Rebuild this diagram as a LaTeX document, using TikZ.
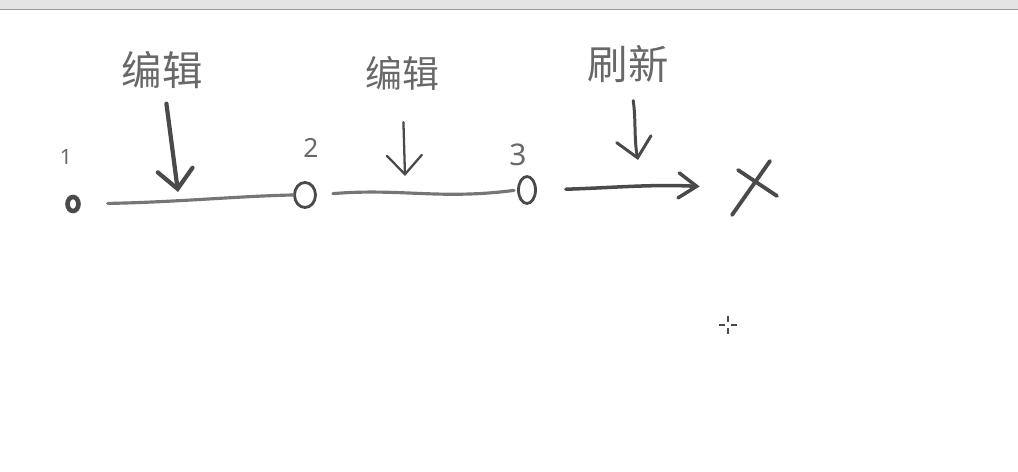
\documentclass[tikz,border=0pt]{standalone}
\usepackage{fontspec}
\usepackage{xcolor}
\newfontfamily\cjk{Noto Sans CJK SC}
\newfontfamily\numfont{Noto Sans}
\usetikzlibrary{arrows.meta,positioning,calc,shapes.geometric}
\definecolor{InkDark}{HTML}{4A4A4A}
\definecolor{InkMid}{HTML}{767676}
\definecolor{InkText}{HTML}{686868}
\definecolor{BarGray}{HTML}{E4E4E4}
\definecolor{BarLine}{HTML}{9A9A9A}
\tikzset{
    % State circle style
    statenode/.style={
        ellipse,
        draw=InkDark,
        inner sep=0pt,
        line width=1.6pt
    },
    % Action label style
    actionlabel/.style={
        text=InkText,
        font=\cjk\fontsize{23}{26}\selectfont,
        inner sep=1pt
    },
    % Number label style
    numlabel/.style={
        text=InkText,
        font=\numfont\fontsize{15}{18}\selectfont,
        inner sep=1pt
    },
    % Timeline stroke
    tline/.style={
        draw=InkMid,
        line width=1.8pt,
        line cap=round
    },
    % Pen arrow
    penarrow/.style={
        -{Straight Barb[length=3.8mm,width=7mm,line cap=round]},
        draw=InkDark,
        line width=1.6pt,
        line cap=round
    },
    % Cross stroke
    xstroke/.style={
        draw=InkDark,
        line width=2.2pt,
        line cap=round
    }
}
\begin{document}
\begin{tikzpicture}[x=0.02cm,y=-0.02cm]
        \useasboundingbox (0,0) rectangle (1018,472);

        % Window bar
        \fill[BarGray] (0,0) rectangle (1018,9);
        \draw[BarLine, line width=1pt] (0,9.5) -- (1018,9.5);

        % States
        \node[statenode, line width=2.6pt, minimum width=0.22cm, minimum height=0.28cm] (s1) at (73,204) {};
        \node[statenode, minimum width=0.42cm, minimum height=0.5cm] (s2) at (305,195) {};
        \node[statenode, minimum width=0.34cm, minimum height=0.54cm] (s3) at (527,190) {};
        \node[minimum width=0.92cm, minimum height=1.08cm] (fail) at (754,188) {};

        % Numbers
        \node[numlabel, font=\numfont\fontsize{12}{14}\selectfont] (n1) at (66,157) {1};
        \node[numlabel] (n2) at (311,148) {2};
        \node[numlabel, font=\numfont\fontsize{17}{20}\selectfont] (n3) at (518,155) {3};

        % Action labels
        \node[actionlabel] (e1) at (162,70) {编辑};
        \node[actionlabel, font=\cjk\fontsize{21}{24}\selectfont] (e2) at (402,73) {编辑};
        \node[actionlabel] (r1) at (628,64) {刷新};

        % Hit points
        \coordinate (h1) at (178,192);
        \coordinate (h2) at (405,176);
        \coordinate (h3) at (638,160);

        % Timeline
        \draw[tline, shorten <=0.54cm] (s1.east) .. controls (180,202) and (240,196) .. (s2.west);
        \draw[tline, shorten <=0.32cm, shorten >=0.06cm] (s2.east) .. controls (400,188) and (440,200) .. (s3.west);
        \draw[tline, line width=2pt, draw=InkDark,
              -{Straight Barb[length=3.6mm,width=5mm,line cap=round]},
              shorten <=0.58cm, shorten >=0.62cm] (s3.east) .. controls (610,188) and (650,184) .. (fail.west);

        % Arrows
        \draw[penarrow, line width=2.4pt, shorten <=0.26cm] (e1) -- (h1);
        \draw[penarrow, line width=1.3pt, shorten <=0.6cm] (e2) -- (h2);
        \draw[penarrow, line width=1.7pt, shorten <=0.32cm] (r1) .. controls (636,120) and (634,140) .. (h3);

        % Cross
        \draw[xstroke] ($(fail)+(-22,27)$) -- ($(fail)+(16,-27)$);
        \draw[xstroke] ($(fail)+(-16,-18)$) -- ($(fail)+(23,8)$);

        % Cursor
        \draw[InkDark, line width=0.8pt] (728,316) -- (728,322) (728,328) -- (728,334)
              (719,325) -- (725,325) (731,325) -- (737,325);
    \end{tikzpicture}
\end{document}
